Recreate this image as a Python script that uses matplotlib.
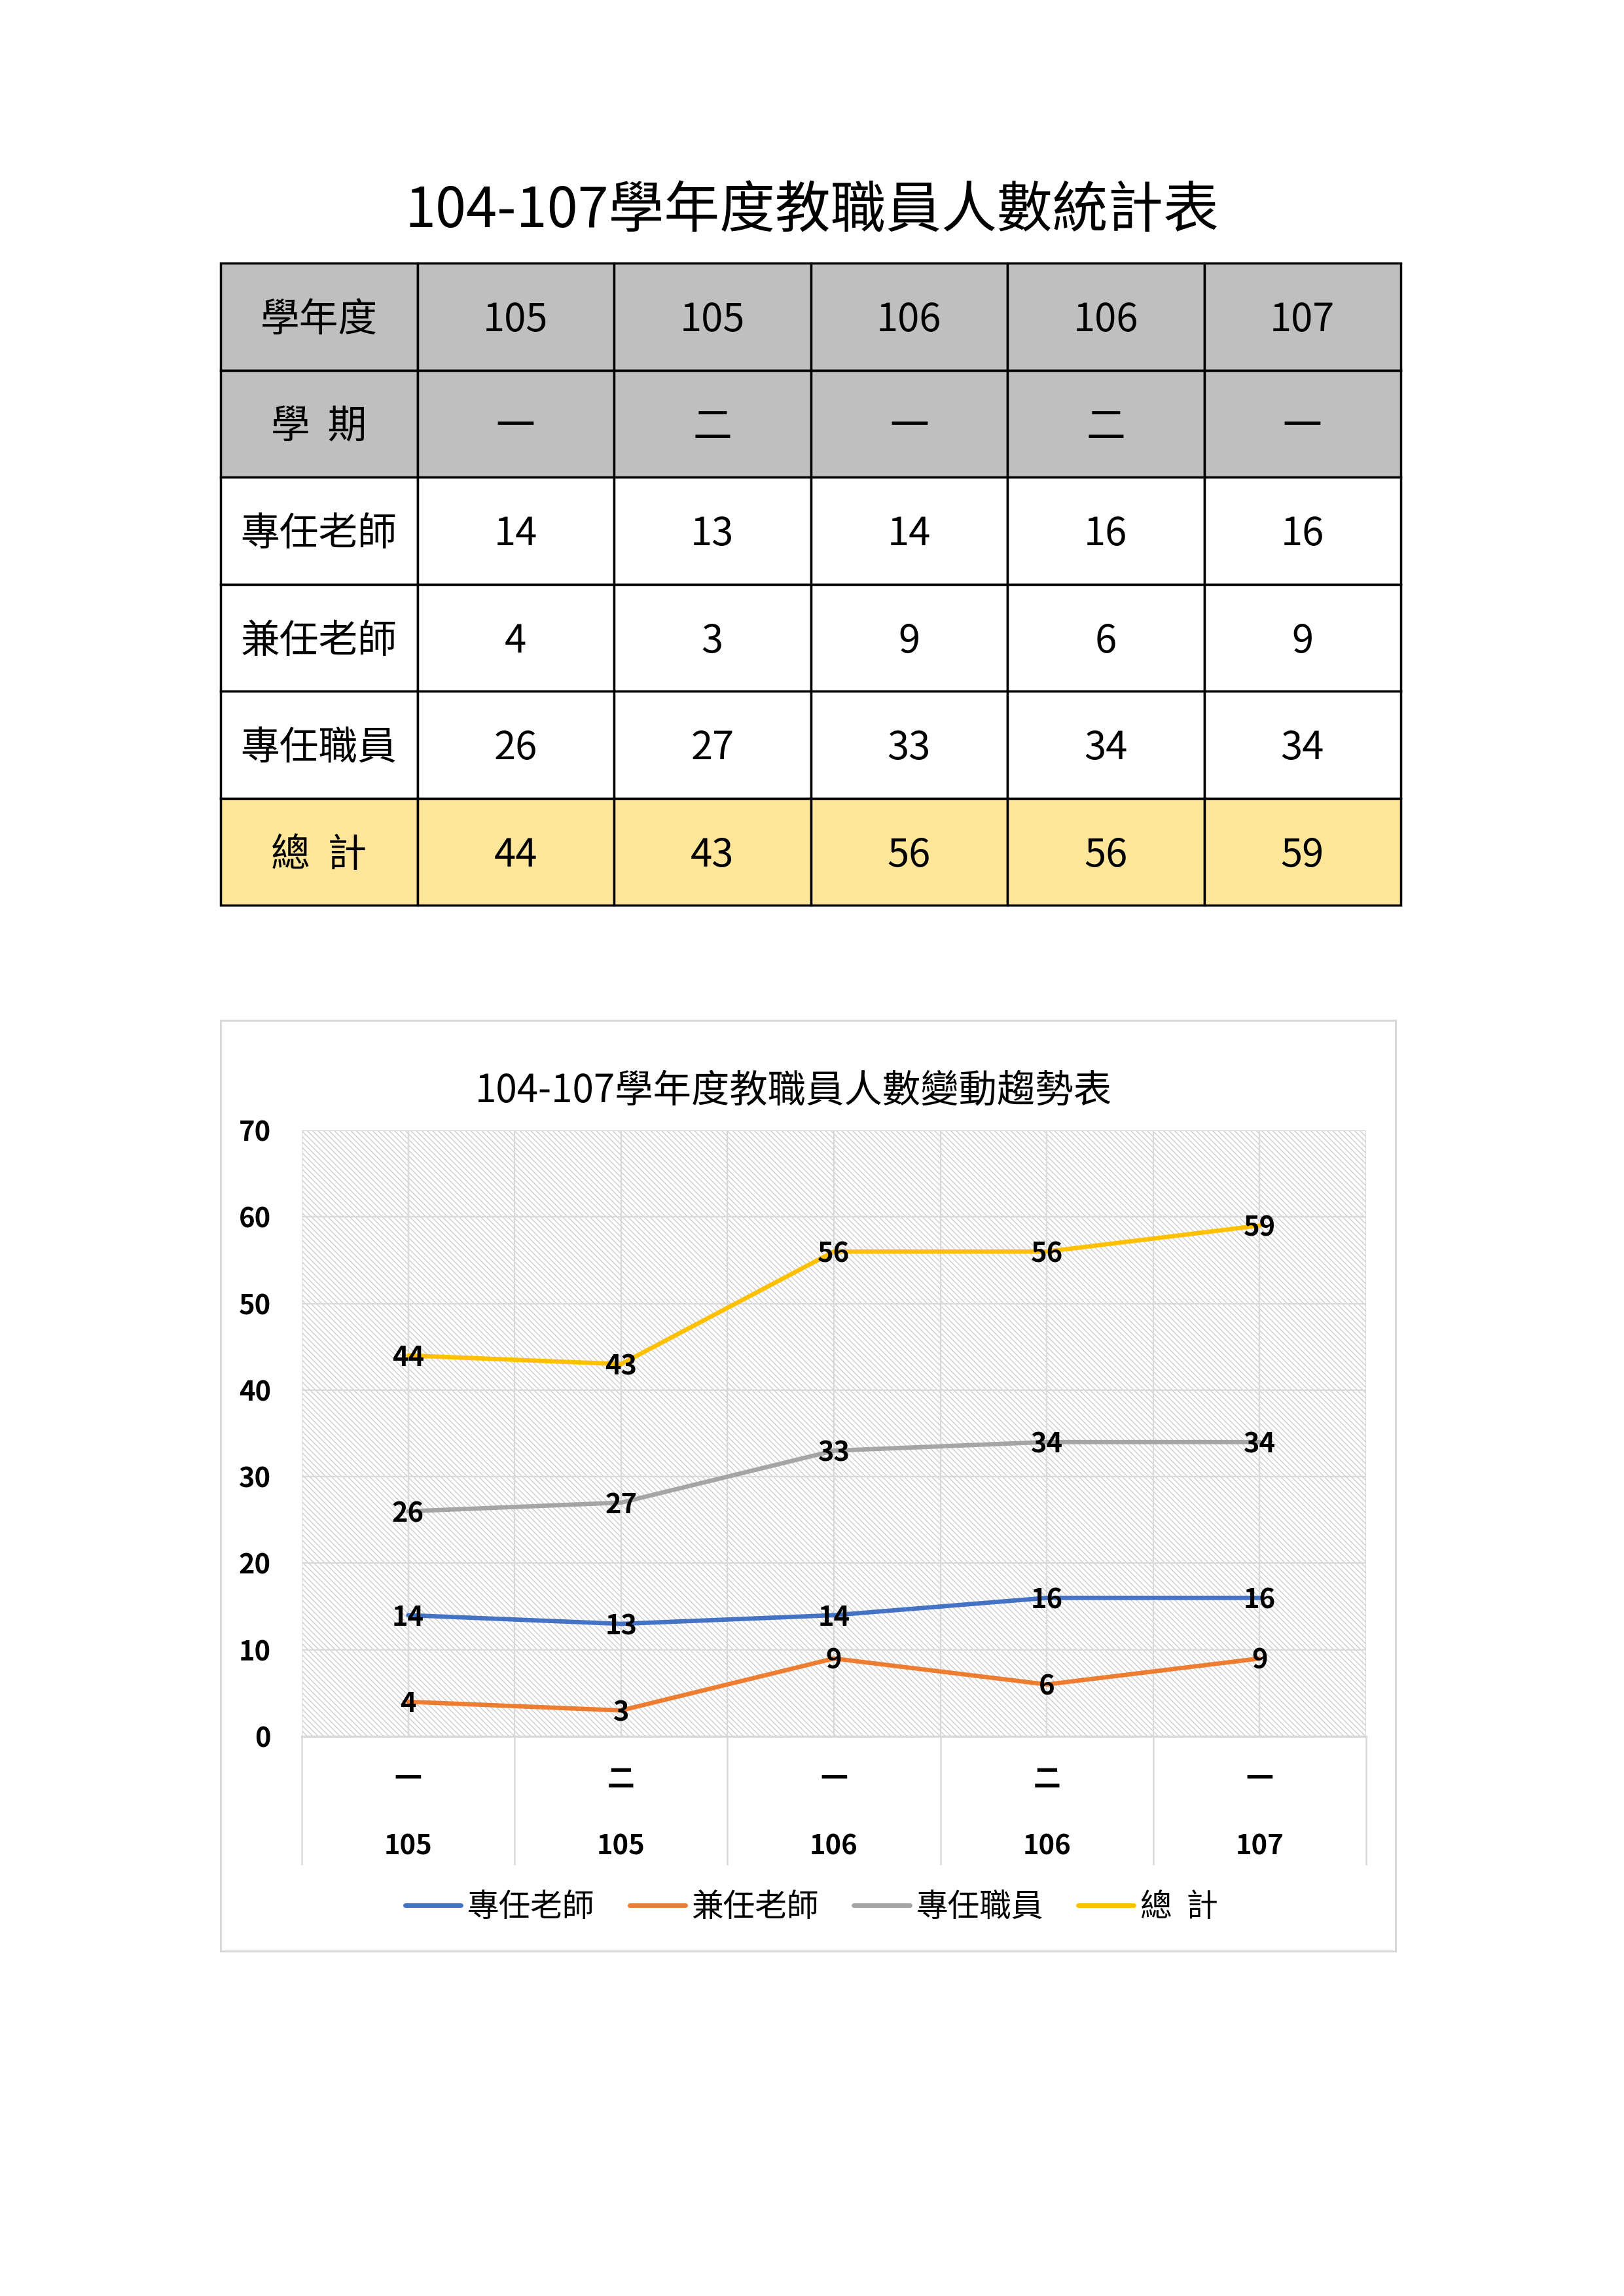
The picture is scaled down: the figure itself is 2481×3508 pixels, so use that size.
import numpy as np
import matplotlib.pyplot as plt
from matplotlib.patches import Rectangle
from matplotlib.lines import Line2D
from matplotlib.transforms import offset_copy

plt.rcParams['font.family'] = ['Noto Sans CJK TC', 'DejaVu Sans']
plt.rcParams['hatch.color'] = '#D2D2D2'
plt.rcParams['hatch.linewidth'] = 1.15

# 資料
years = ['105', '105', '106', '106', '107']
semesters = ['一', '二', '一', '二', '一']
row_names = ['專任老師', '兼任老師', '專任職員', '總  計']
full_time_teachers = [14, 13, 14, 16, 16]
part_time_teachers = [4, 3, 9, 6, 9]
full_time_staff = [26, 27, 33, 34, 34]
totals = [44, 43, 56, 56, 59]
series_colors = ['#4472C4', '#ED7D31', '#A5A5A5', '#FFC000']

W, H = 2481, 3508


def fx(px):
    return px / W


def fy(py):
    return 1 - py / H


fig = plt.figure(figsize=(W / 100, H / 100), dpi=100)

# 整頁底層 (像素座標)
page = fig.add_axes([0, 0, 1, 1], zorder=0)
page.set_xlim(0, W)
page.set_ylim(H, 0)
page.axis('off')

# 表格標題
fig.text(fx(1240), fy(323), '104-107學年度教職員人數統計表',
         fontsize=61, ha='center', va='center')

# 表格
t_left, t_top = 337, 402
col_w, row_h = 300.5, 163.5
table_rows = [
    ('學年度', years, '#BFBFBF'),
    ('學  期', semesters, '#BFBFBF'),
    (row_names[0], full_time_teachers, 'white'),
    (row_names[1], part_time_teachers, 'white'),
    (row_names[2], full_time_staff, 'white'),
    (row_names[3], totals, '#FFE699'),
]
for r, (name, vals, bg) in enumerate(table_rows):
    cells = [name] + [str(v) for v in vals]
    for c, txt in enumerate(cells):
        x0 = t_left + c * col_w
        y0 = t_top + r * row_h
        page.add_patch(Rectangle((x0, y0), col_w, row_h, facecolor=bg,
                                 edgecolor='black', linewidth=2.5))
        page.text(x0 + col_w / 2, y0 + row_h / 2 + 6, txt, fontsize=43,
                  ha='center', va='center')

# 圖表外框
page.add_patch(Rectangle((337, 1559), 2132 - 337, 2981 - 1559,
                         facecolor='white', edgecolor='#D9D9D9', linewidth=2.2))

# 折線圖
p_left, p_right, p_top, p_bottom = 461, 2087, 1727, 2653
ax = fig.add_axes([fx(p_left), fy(p_bottom), fx(p_right - p_left), (p_bottom - p_top) / H],
                  zorder=2)
ax.set_facecolor('none')
ax.add_patch(Rectangle((0, 0), 1, 1, transform=ax.transAxes, facecolor='white',
                       edgecolor='#D2D2D2', hatch='\\\\\\\\', linewidth=0, zorder=0))

x = np.arange(len(years))
ax.set_xlim(-0.5, len(years) - 0.5)
ax.set_ylim(0, 70)
ax.set_yticks(range(0, 71, 10))
ax.set_xticks([])
ax.set_xticks(np.arange(-0.5, len(years), 0.5), minor=True)
ax.grid(axis='y', color='#D9D9D9', linewidth=1.6, zorder=1)
ax.grid(axis='x', which='minor', color='#D9D9D9', linewidth=1.6, zorder=1)
ax.set_axisbelow(True)
for s in ['top', 'left', 'right']:
    ax.spines[s].set_visible(False)
ax.spines['bottom'].set_color('#D9D9D9')
ax.spines['bottom'].set_linewidth(2.2)
ax.tick_params(axis='y', length=0, pad=34, labelsize=30)
ax.tick_params(axis='x', which='both', length=0)
for lab in ax.get_yticklabels():
    lab.set_fontweight('bold')

label_tr = offset_copy(ax.transData, fig=fig, y=-4, units='dots')
series = [full_time_teachers, part_time_teachers, full_time_staff, totals]
handles = []
for vals, name, color in zip(series, row_names, series_colors):
    ax.plot(x, vals, color=color, linewidth=4.8, solid_capstyle='round', zorder=3)
    for xi, v in zip(x, vals):
        ax.text(xi, v, str(v), transform=label_tr, ha='center', va='center',
                fontsize=30, fontweight='bold', zorder=5)
    handles.append(Line2D([0], [0], color=color, linewidth=5, solid_capstyle='round',
                          label=name))

# 多層類別座標軸
ax_h = p_bottom - p_top
for xi, sem, yr in zip(x, semesters, years):
    ax.text(xi, -66 / ax_h, sem, transform=ax.get_xaxis_transform(), ha='center',
            va='center', fontsize=30, fontweight='bold')
    ax.text(xi, -168 / ax_h, yr, transform=ax.get_xaxis_transform(), ha='center',
            va='center', fontsize=30, fontweight='bold')
for b in np.arange(-0.5, len(years), 1.0):
    ax.plot([b, b], [0, -195 / ax_h], transform=ax.get_xaxis_transform(),
            color='#D9D9D9', linewidth=1.8, clip_on=False)

# 圖表標題與圖例
fig.text(fx(1212), fy(1667), '104-107學年度教職員人數變動趨勢表',
         fontsize=42, ha='center', va='center', zorder=3)
fig.legend(handles=handles, loc='center', bbox_to_anchor=(fx(1240), fy(2914)),
           ncol=4, frameon=False, fontsize=35, handlelength=1.75,
           handletextpad=0.2, columnspacing=1.1)

fig.savefig('out.png', dpi=100)
